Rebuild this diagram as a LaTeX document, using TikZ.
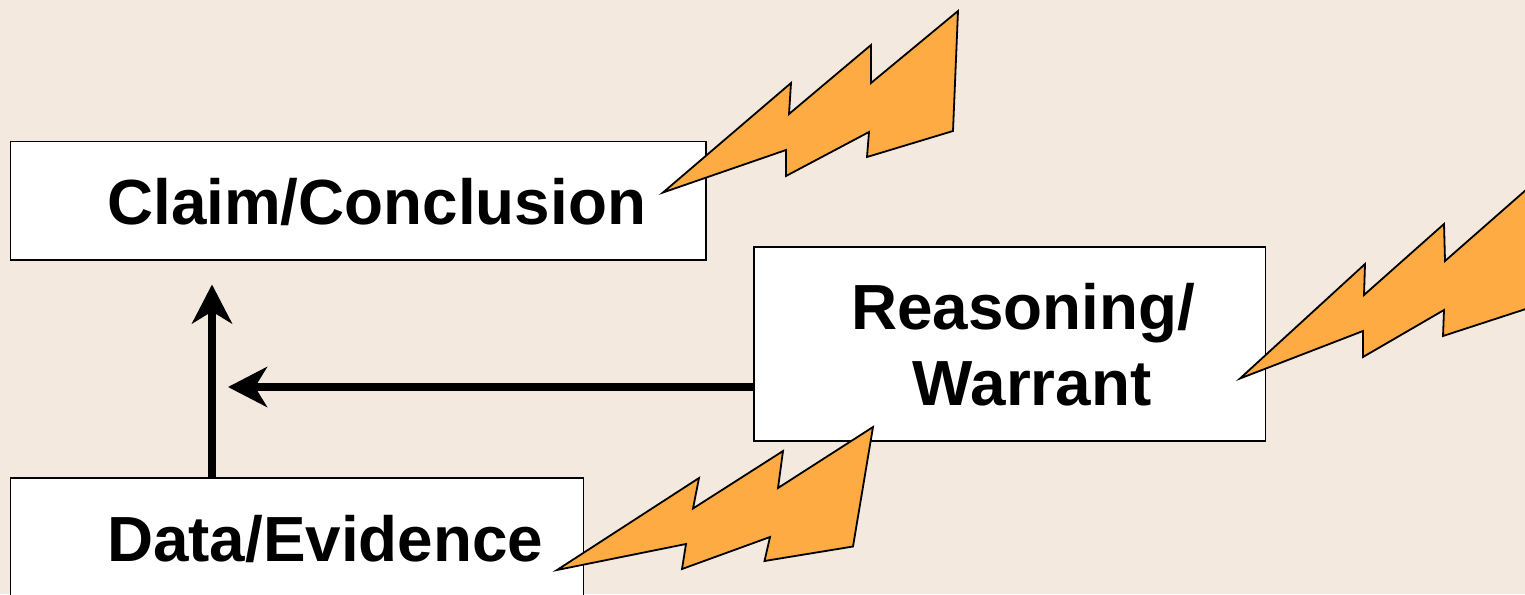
\documentclass[tikz,border=0pt]{standalone}
\usepackage{fontspec}
\setmainfont{Liberation Sans}
\usetikzlibrary{arrows.meta,calc}
\definecolor{bgc}{HTML}{F3E9DF}
\definecolor{boltc}{HTML}{FDAB42}
\tikzset{
  box/.style={draw=black,fill=white,line width=1.8pt,minimum width=#1,inner sep=0pt,outer sep=0pt},
  lbl/.style={font=\bfseries\fontsize{63.8}{64}\selectfont,inner sep=0pt,anchor=base west},
  link/.style={draw=black,line width=8pt,-{Stealth[length=39pt,width=40pt,inset=12pt]}},
  bolt/.style={draw=black,fill=boltc,line width=1.8pt,line join=miter}
}
\begin{document}
\begin{tikzpicture}[x=1pt,y=-1pt]
\useasboundingbox (0,0) rectangle (1525,594);
\clip (0,0) rectangle (1525,594);
\fill[bgc] (0,0) rectangle (1525,594);
% boxes
\node[box=695.5pt,minimum height=118.5pt] (claim) at (358.25,200.75) {};
\node[box=511.5pt,minimum height=194pt] (reason) at (1009.75,344) {};
\node[box=573pt,minimum height=180pt] (data) at (297,568) {};
% labels
\node[lbl] (claimT) at (107,224) {Claim/Conclusion};
\node[lbl] (reasonA) at (851,329) {Reasoning/};
\node[lbl] (reasonB) at (912.5,405) {Warrant};
\node[lbl] (dataT) at (107,561) {Data/Evidence};
% connectors
\coordinate (upTip) at (212,284.5);
\coordinate (leftTip) at (228,387);
\draw[link] (upTip |- data.north) -- (upTip);
\draw[link] (reason.west |- leftTip) -- (leftTip);
% bolts
\draw[bolt] (663,192.5) -- (791,83) -- (789,114) -- (871,45) -- (871,83) -- (958,11) -- (953,131) -- (867,157) -- (869,132) -- (786,176) -- (786,150) -- cycle;
\draw[bolt] (1240,378.5) -- (1365,264) -- (1364,295) -- (1444,224) -- (1445,261) -- (1535,182) -- (1535,306) -- (1443,336) -- (1444,310) -- (1363,357) -- (1363,331) -- cycle;
\draw[bolt] (557,570) -- (699,478) -- (693,508.5) -- (783,451) -- (778,488) -- (873,427) -- (853,546.5) -- (764.5,561) -- (770,537) -- (682,569) -- (686,544) -- cycle;
\end{tikzpicture}
\end{document}
